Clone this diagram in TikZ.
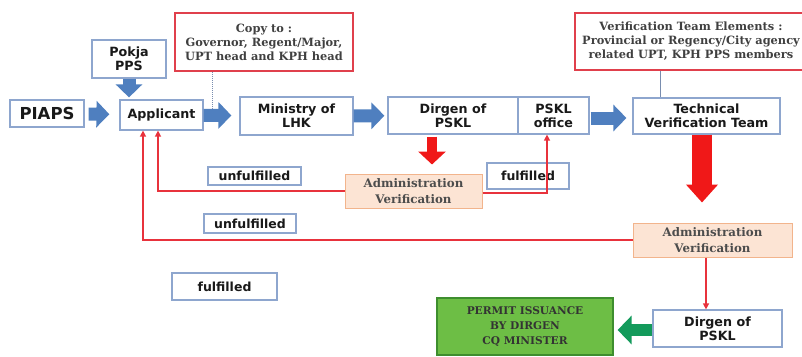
\documentclass[tikz,border=0pt]{standalone}
\usepackage{fontspec}
\usetikzlibrary{arrows.meta,calc}
\newfontfamily\boxfont{DejaVu Sans}
\newfontfamily\notefont{DejaVu Serif}
\definecolor{boxline}{HTML}{8EA6CE}
\definecolor{arrowblue}{HTML}{4F7FBF}
\definecolor{redline}{HTML}{E8323C}
\definecolor{fatred}{HTML}{F01818}
\definecolor{peach}{HTML}{FCE4D4}
\definecolor{peachline}{HTML}{F2B48C}
\definecolor{permitgreen}{HTML}{6DBE45}
\definecolor{permitline}{HTML}{3E8E2E}
\definecolor{arrowgreen}{HTML}{139A5B}
\definecolor{notered}{HTML}{E0404C}
\tikzset{
  sz/.style 2 args={minimum width=#1pt, minimum height=#2pt},
  blk/.style={draw=boxline, line width=1.2pt, fill=white, align=center, inner sep=0pt, text=black!90,
    font={\boxfont\bfseries\fontsize{12.7}{14}\selectfont}},
  tag/.style={blk, font={\boxfont\bfseries\fontsize{12.5}{13}\selectfont}},
  note/.style={draw=notered, line width=1.6pt, fill=white, align=center, inner sep=0pt, text=black!75,
    font={\notefont\bfseries\fontsize{11.4}{14}\selectfont}},
  adm/.style={note, draw=peachline, line width=1pt, fill=peach, text=black!70,
    font={\notefont\bfseries\fontsize{11.8}{16}\selectfont}},
  permitbox/.style={note, draw=permitline, line width=1.2pt, fill=permitgreen, text=black!80,
    font={\notefont\bfseries\fontsize{10.6}{15}\selectfont}},
  fat/.style={draw=arrowblue, line width=13pt, -{Triangle[length=13pt,width=26pt]}},
  fatr/.style={fat, draw=fatred, line width=10pt, -{Triangle[length=13pt,width=27pt]}},
  fatg/.style={fat, draw=arrowgreen, line width=12pt, -{Triangle[length=14pt,width=28pt]}},
  back/.style={draw=redline, line width=1.3pt, -{Triangle[length=6pt,width=6pt]}},
  ln/.style={draw=boxline!85!black, line width=1pt},
}
\begin{document}
\begin{tikzpicture}[x=1pt,y=-1pt]
  \useasboundingbox (0,0) rectangle (802,356);
  % top row
  \node[blk, sz={74}{27}, font={\boxfont\bfseries\fontsize{16.5}{18}\selectfont}] (piaps) at (47,113.5) {PIAPS};
  \node[blk, sz={74}{38}] (pokja) at (129,59) {Pokja\\PPS};
  \node[note, sz={178}{58}] (copyto) at (264,42) {Copy to :\\Governor, Regent/Major,\\UPT head and KPH head};
  \node[blk, sz={83}{30}] (appl) at (161.5,115) {Applicant};
  \node[blk, sz={113}{38}] (lhk) at (296.5,116) {Ministry of\\LHK};
  \node[blk, sz={130}{37}] (dirgen) at (453,115.5) {Dirgen of\\PSKL};
  \node[blk, sz={71}{37}] (office) at (553.5,115.5) {PSKL\\office};
  \node[blk, sz={147}{36}] (tvt) at (706.5,116) {Technical\\Verification Team};
  \node[note, sz={232}{57}] (vte) at (691,41.5) {Verification Team Elements :\\Provincial or Regency/City agency\\related UPT, KPH PPS members};
  \coordinate (copylink) at (212,109);
  % verification results
  \node[adm, sz={137}{34}] (adm1) at (413.5,191) {Administration\\Verification};
  \node[tag, sz={82}{26}] (ful1) at (528,176) {fulfilled};
  \node[tag, sz={93}{18}] (unf1) at (254.5,176) {unfulfilled};
  \node[tag, sz={92}{19}] (unf2) at (250,223.5) {unfulfilled};
  \node[tag, sz={105}{27}] (ful2) at (224.5,286.5) {fulfilled};
  \node[adm, sz={159}{34}] (adm2) at (712.5,240) {Administration\\Verification};
  \node[blk, sz={129}{37}] (dirgen2) at (717.5,328.5) {Dirgen of\\PSKL};
  \node[permitbox, sz={176}{57}] (permit) at (525,326.5) {PERMIT ISSUANCE\\BY DIRGEN\\CQ MINISTER};
  % flow
  \draw[fat, shorten <=4pt, shorten >=10pt] (piaps) -- (appl);
  \draw[fat, shorten >=2pt] (pokja) -- (pokja |- appl.north);
  \draw[fat, shorten >=8pt] (appl) -- (lhk);
  \draw[fat, shorten >=3pt] (lhk) -- (dirgen);
  \draw[fat, shorten <=1pt, shorten >=6pt] (office.east |- 0,118) -- (tvt.west |- 0,118);
  \draw[ln, densely dotted] (copyto.south -| copylink) -- (copylink);
  \draw[ln] ([xshift=-31pt]vte.south) -- ([xshift=-31pt]vte.south |- tvt.north);
  \draw[fatr, shorten <=2pt, shorten >=9pt] ([xshift=-21pt]dirgen.south) -- ([xshift=-21pt]dirgen.south |- adm1.north);
  \draw[fatr, line width=20pt, -{Triangle[length=18pt,width=31pt]}, shorten >=20pt]
    ([xshift=-4.5pt]tvt.south) -- ([xshift=-4.5pt]tvt.south |- adm2.north);
  \draw[back] (adm1.east |- 0,193) -| ([xshift=-6.5pt]office.south);
  \draw[back] (adm1.west) -| ([xshift=-3.5pt]appl.south);
  \draw[back] (adm2.west) -| ([xshift=-18.5pt]appl.south);
  \draw[back] ([xshift=-6.5pt]adm2.south) -- ([xshift=-6.5pt]adm2.south |- dirgen2.north);
  \draw[fatg, shorten >=4pt] (dirgen2.west |- 0,330) -- (permit.east |- 0,330);
\end{tikzpicture}
\end{document}
